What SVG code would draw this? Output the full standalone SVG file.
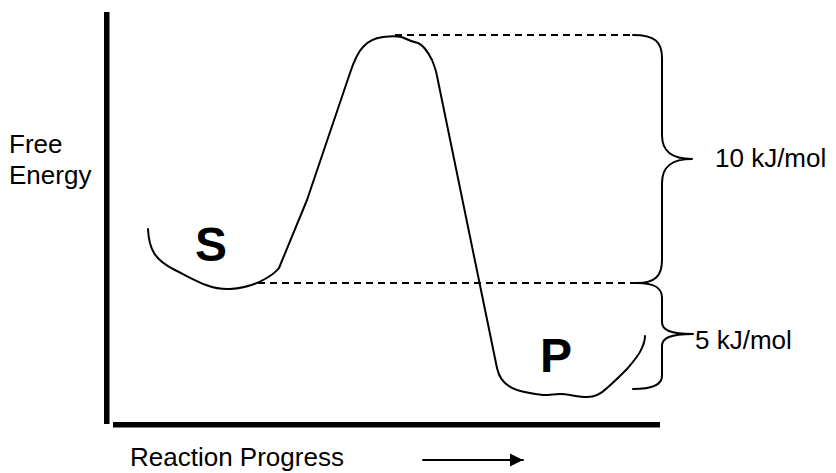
<svg xmlns="http://www.w3.org/2000/svg" width="836" height="473" viewBox="0 0 836 473">
<style>
.lbl{font-family:"Liberation Sans",Arial,sans-serif;font-size:26px;fill:#000}
.big{font-family:"Liberation Sans",Arial,sans-serif;font-size:48px;font-weight:bold;fill:#000}
.ln{fill:none;stroke:#000;stroke-width:2;stroke-linecap:round;stroke-linejoin:round}
.dash{fill:none;stroke:#000;stroke-width:2;stroke-dasharray:7 5}
</style>
<defs>
<marker id="ah" viewBox="0 0 10 10" refX="10" refY="5" markerWidth="13" markerHeight="15" markerUnits="userSpaceOnUse" orient="auto">
<path d="M0,0 L10,5 L0,10 Z" fill="#000"/>
</marker>
</defs>
<rect width="836" height="473" fill="#fff"/>
<g id="axes">
<rect x="104" y="12" width="5.5" height="412" fill="#000"/>
<rect x="113" y="422" width="547" height="5.5" fill="#000"/>
</g>
<g id="y-label">
<text class="lbl" x="9" y="153">Free</text>
<text class="lbl" x="9" y="184">Energy</text>
</g>
<g id="x-label">
<text class="lbl" x="130" y="466">Reaction Progress</text>
</g>
<g id="curve">
<path class="ln" d="M148,229 C149,250 155,260 175,270 C195,280 210,290 230,289 C245,288 258,283 265,279 C272,275 276,272 279,268 L307,200 L350,73 C354,61 358,52 363,47 C368,41 375,38 383,37 C392,36 400,36 404,38 C408,40 414,42 418,43 C423,45 428,52 432,60 C434,65 436,70 437,76 L497,368 C499,378 505,386 517,390 C527,393 535,394 543,395 C550,395 555,394 560,394 C568,394 578,397 587,397 C592,397 600,395 607,388 C614,382 620,376 627,369 C633,362 639,355 641,350 C644,344 645,340 645,336"/>
</g>
<g id="S">
<text class="big" x="195" y="261">S</text>
</g>
<g id="P">
<text class="big" x="540" y="372">P</text>
</g>
<g id="connectors">
<path class="dash" d="M395,35 L633,35"/>
<path class="dash" d="M258,283 L637,283"/>
<path id="brace10" class="ln" d="M633,35 C655,35 662,42 662,58 L662,135 C662,152 672,159 692,159 C672,159 662,166 662,183 L662,260 C662,276 655,283 637,283"/>
<path id="brace5" class="ln" d="M637,283 C655,283 662,288 662,298 L662,322 C662,330 670,334 693,334 C670,334 662,338 662,346 L662,376 C662,385 650,389 633,389"/>
<path class="ln" d="M423,460 L523,460" marker-end="url(#ah)"/>
</g>
<g id="label10">
<text class="lbl" x="715" y="167">10 kJ/mol</text>
</g>
<g id="label5">
<text class="lbl" x="695" y="349">5 kJ/mol</text>
</g>
</svg>
